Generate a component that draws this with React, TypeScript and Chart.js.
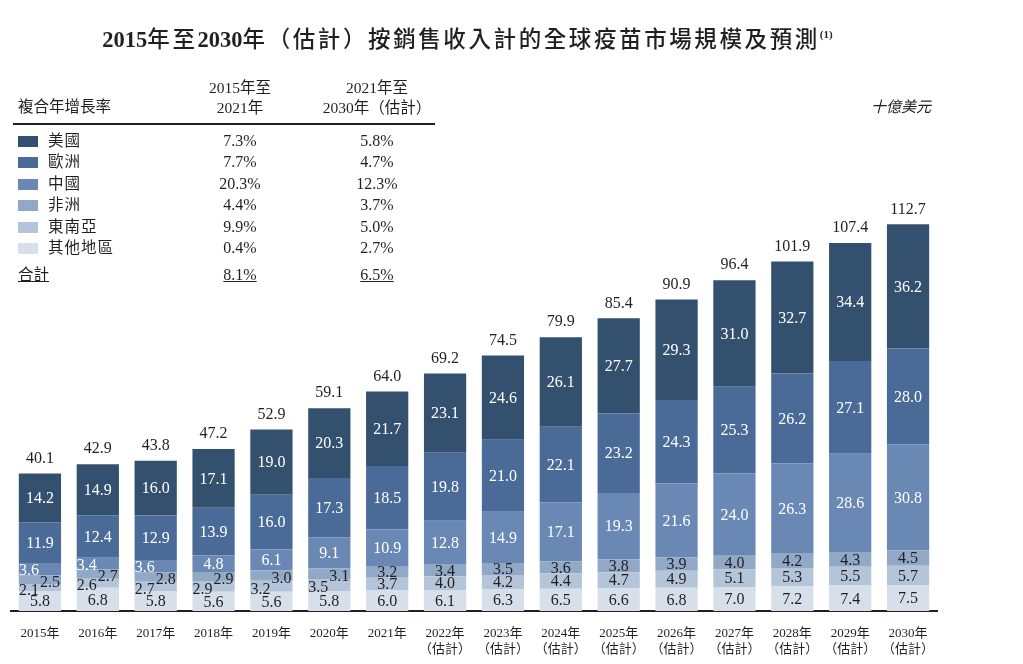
import React, { useEffect, useRef } from "react";
import { Chart, registerables } from "chart.js";

Chart.register(...registerables);

const years = ["2015年", "2016年", "2017年", "2018年", "2019年", "2020年", "2021年", "2022年", "2023年", "2024年", "2025年", "2026年", "2027年", "2028年", "2029年", "2030年"];
const estimated = [false, false, false, false, false, false, false, true, true, true, true, true, true, true, true, true];

const others = [5.8, 6.8, 5.8, 5.6, 5.6, 5.8, 6.0, 6.1, 6.3, 6.5, 6.6, 6.8, 7.0, 7.2, 7.4, 7.5];
const seAsia = [2.1, 2.6, 2.7, 2.9, 3.2, 3.5, 3.7, 4.0, 4.2, 4.4, 4.7, 4.9, 5.1, 5.3, 5.5, 5.7];
const africa = [2.5, 2.7, 2.8, 2.9, 3.0, 3.1, 3.2, 3.4, 3.5, 3.6, 3.8, 3.9, 4.0, 4.2, 4.3, 4.5];
const china = [3.6, 3.4, 3.6, 4.8, 6.1, 9.1, 10.9, 12.8, 14.9, 17.1, 19.3, 21.6, 24.0, 26.3, 28.6, 30.8];
const europe = [11.9, 12.4, 12.9, 13.9, 16.0, 17.3, 18.5, 19.8, 21.0, 22.1, 23.2, 24.3, 25.3, 26.2, 27.1, 28.0];
const usa = [14.2, 14.9, 16.0, 17.1, 19.0, 20.3, 21.7, 23.1, 24.6, 26.1, 27.7, 29.3, 31.0, 32.7, 34.4, 36.2];
const totals = [40.1, 42.9, 43.8, 47.2, 52.9, 59.1, 64.0, 69.2, 74.5, 79.9, 85.4, 90.9, 96.4, 101.9, 107.4, 112.7];

const regionNames = ["美國", "歐洲", "中國", "非洲", "東南亞", "其他地區"];
const cagr2015to2021 = ["7.3%", "7.7%", "20.3%", "4.4%", "9.9%", "0.4%"];
const cagr2021to2030 = ["5.8%", "4.7%", "12.3%", "3.7%", "5.0%", "2.7%"];
const totalCagr = ["8.1%", "6.5%"];

const COLORS = {
  usa: "#34506f",
  europe: "#4a6b98",
  china: "#6a88b4",
  africa: "#91a8c7",
  seAsia: "#b5c5d9",
  others: "#d6dfea",
};
const legendColors = [COLORS.usa, COLORS.europe, COLORS.china, COLORS.africa, COLORS.seAsia, COLORS.others];
const TEXT = "#231f20";
const SERIF = "'Liberation Serif', 'Times New Roman', 'Noto Sans CJK TC', serif";
const CJK = "'Liberation Serif', 'Noto Sans CJK TC', sans-serif";

const labelPlugin = {
  id: "segLabels",
  afterDatasetsDraw(chart: any) {
    const ctx = chart.ctx;
    ctx.save();
    ctx.font = `16px ${SERIF}`;
    ctx.textAlign = "center";
    ctx.textBaseline = "middle";
    const n = chart.data.datasets.length;
    for (let i = 0; i < n; i++) {
      const meta = chart.getDatasetMeta(i);
      const ds = chart.data.datasets[i];
      ctx.fillStyle = i >= 3 ? "#ffffff" : TEXT;
      meta.data.forEach((el: any, j: number) => {
        const v = ds.data[j];
        let x = el.x;
        let y = (el.y + el.base) / 2;
        if (i === 1 && j <= 5) { x -= 11; y += 2; }
        if (i === 2 && j <= 5) { x += 10; y += 2; }
        if (i === 3 && j <= 2) { x -= 11; y += 1; }
        ctx.fillText(v.toFixed(1), x, y + 1);
      });
    }
    const topMeta = chart.getDatasetMeta(n - 1);
    ctx.fillStyle = TEXT;
    topMeta.data.forEach((el: any, j: number) => {
      ctx.fillText(totals[j].toFixed(1), el.x, el.y - 15);
    });
    ctx.restore();
  },
};

export default function App() {
  const ref = useRef<HTMLCanvasElement | null>(null);
  useEffect(() => {
    if (!ref.current) return;
    const chart = new Chart(ref.current, {
      type: "bar",
      data: {
        labels: years,
        datasets: [
          { label: "其他地區", data: others, backgroundColor: COLORS.others },
          { label: "東南亞", data: seAsia, backgroundColor: COLORS.seAsia },
          { label: "非洲", data: africa, backgroundColor: COLORS.africa },
          { label: "中國", data: china, backgroundColor: COLORS.china },
          { label: "歐洲", data: europe, backgroundColor: COLORS.europe },
          { label: "美國", data: usa, backgroundColor: COLORS.usa },
        ],
      },
      options: {
        animation: false,
        responsive: false,
        devicePixelRatio: 1,
        layout: { padding: { left: 11, right: 86, top: 165, bottom: 0 } },
        datasets: { bar: { categoryPercentage: 1, barPercentage: 0.73, borderWidth: 0 } },
        plugins: { legend: { display: false }, tooltip: { enabled: false }, title: { display: false } },
        scales: {
          x: {
            stacked: true,
            grid: { display: false, drawTicks: false },
            border: { display: true, color: TEXT, width: 2 },
            afterFit: (scale: any) => { scale.height = 53; },
            ticks: {
              color: TEXT,
              padding: 14,
              maxRotation: 0,
              autoSkip: false,
              font: { family: SERIF, size: 13, lineHeight: 1.25 },
              callback: (_v: any, idx: number) => (estimated[idx] ? [years[idx], "（估計）"] : years[idx]),
            },
          },
          y: { stacked: true, display: false, min: 0, max: 130 },
        },
      },
      plugins: [labelPlugin],
    });
    return () => chart.destroy();
  }, []);

  const rowTops = [141, 162, 184, 205, 227, 248];
  const abs = (style: React.CSSProperties): React.CSSProperties => ({ position: "absolute", whiteSpace: "nowrap", lineHeight: "20px", color: TEXT, ...style });

  return (
    <div style={{ position: "absolute", left: 0, top: 0, width: 1023, height: 664, background: "#fff", fontFamily: CJK, overflow: "hidden" }}>
      <canvas ref={ref} width={1023} height={664} style={{ position: "absolute", left: 0, top: 0, width: 1023, height: 664 }} />
      <div style={abs({ left: 0, width: 935, top: 21, lineHeight: "26px", textAlign: "center", fontSize: 22.5, letterSpacing: 2.6, fontFamily: CJK, fontWeight: 500 })}>
        <b style={{ fontFamily: SERIF, letterSpacing: 0 }}>2015</b>年至<b style={{ fontFamily: SERIF, letterSpacing: 0 }}>2030</b>年（估計）按銷售收入計的全球疫苗市場規模及預測
        <sup style={{ fontFamily: SERIF, fontSize: 11, fontWeight: 700, letterSpacing: 0 }}>(1)</sup>
      </div>
      <div style={abs({ left: 18, top: 97, fontSize: 15.5 })}>複合年增長率</div>
      <div style={abs({ left: 170, width: 140, top: 78, fontSize: 15.5, textAlign: "center", fontFamily: SERIF })}>2015年至<br />2021年</div>
      <div style={abs({ left: 307, width: 140, top: 78, fontSize: 15.5, textAlign: "center", fontFamily: SERIF })}>2021年至<br />2030年（估計）</div>
      <div style={{ position: "absolute", left: 13, top: 123, width: 422, height: 2, background: TEXT }} />
      {regionNames.map((name, i) => (
        <React.Fragment key={name}>
          <div style={{ position: "absolute", left: 18, top: rowTops[i] - 5, width: 20, height: 11, background: legendColors[i] }} />
          <div style={abs({ left: 48, top: rowTops[i] - 10, fontSize: 15.5, letterSpacing: 1 })}>{name}</div>
          <div style={abs({ left: 170, width: 140, top: rowTops[i] - 10, fontSize: 16, textAlign: "center", fontFamily: SERIF })}>{cagr2015to2021[i]}</div>
          <div style={abs({ left: 307, width: 140, top: rowTops[i] - 10, fontSize: 16, textAlign: "center", fontFamily: SERIF })}>{cagr2021to2030[i]}</div>
        </React.Fragment>
      ))}
      <div style={abs({ left: 18, top: 265, fontSize: 15.5, textDecoration: "underline" })}>合計</div>
      <div style={abs({ left: 170, width: 140, top: 265, fontSize: 16, textAlign: "center", fontFamily: SERIF, textDecoration: "underline" })}>{totalCagr[0]}</div>
      <div style={abs({ left: 307, width: 140, top: 265, fontSize: 16, textAlign: "center", fontFamily: SERIF, textDecoration: "underline" })}>{totalCagr[1]}</div>
      <div style={abs({ left: 831, width: 100, top: 97, fontSize: 15, textAlign: "right", fontStyle: "italic" })}>十億美元</div>
    </div>
  );
}
